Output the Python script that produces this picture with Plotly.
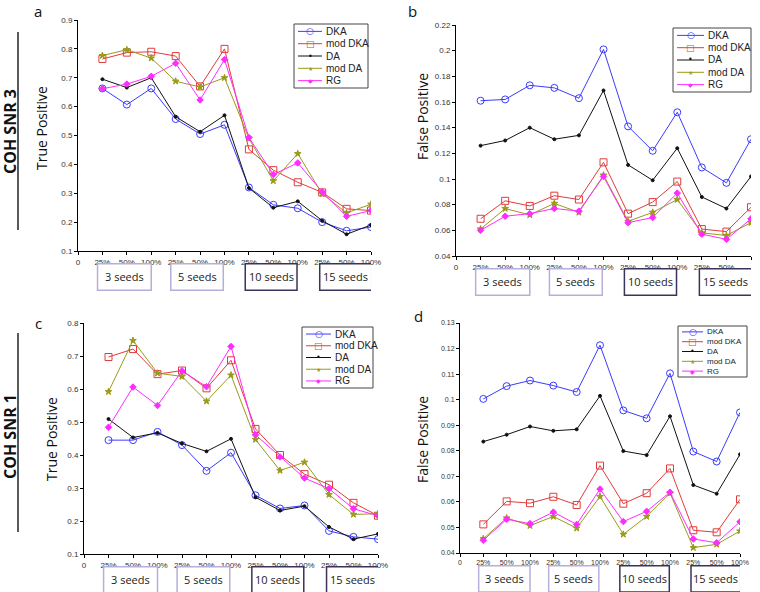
import plotly.graph_objects as go

# ---------------- data ----------------
x_pos = list(range(1, 13))
x_tickvals = list(range(0, 13))
x_ticktext = ["0"] + ["25%", "50%", "100%"] * 4
seed_labels = ["3 seeds", "5 seeds", "10 seeds", "15 seeds"]
series_names = ["DKA", "mod DKA", "DA", "mod DA", "RG"]

# panel a: COH SNR 3, True Positive
a_dka = [0.663, 0.607, 0.663, 0.557, 0.505, 0.537, 0.320, 0.260, 0.248, 0.200, 0.170, 0.183]
a_moddka = [0.765, 0.787, 0.790, 0.775, 0.670, 0.800, 0.452, 0.380, 0.338, 0.303, 0.246, 0.240]
a_da = [0.695, 0.666, 0.700, 0.565, 0.513, 0.570, 0.318, 0.250, 0.272, 0.205, 0.158, 0.190]
a_modda = [0.777, 0.797, 0.768, 0.688, 0.668, 0.700, 0.490, 0.343, 0.437, 0.298, 0.232, 0.262]
a_rg = [0.662, 0.678, 0.705, 0.750, 0.623, 0.763, 0.493, 0.365, 0.405, 0.305, 0.220, 0.240]

# panel b: COH SNR 3, False Positive
b_dka = [0.161, 0.162, 0.173, 0.171, 0.163, 0.201, 0.141, 0.122, 0.152, 0.109, 0.097, 0.131]
b_moddka = [0.069, 0.083, 0.079, 0.087, 0.084, 0.113, 0.073, 0.082, 0.098, 0.061, 0.059, 0.078]
b_da = [0.126, 0.130, 0.140, 0.131, 0.134, 0.169, 0.111, 0.099, 0.124, 0.086, 0.077, 0.102]
b_modda = [0.061, 0.077, 0.072, 0.081, 0.074, 0.103, 0.067, 0.074, 0.084, 0.058, 0.056, 0.066]
b_rg = [0.060, 0.071, 0.073, 0.077, 0.075, 0.102, 0.066, 0.070, 0.089, 0.057, 0.053, 0.069]

# panel c: COH SNR 1, True Positive
c_dka = [0.445, 0.445, 0.470, 0.430, 0.352, 0.407, 0.278, 0.238, 0.247, 0.170, 0.152, 0.145]
c_moddka = [0.697, 0.721, 0.645, 0.656, 0.602, 0.687, 0.479, 0.400, 0.342, 0.310, 0.255, 0.216]
c_da = [0.509, 0.453, 0.467, 0.435, 0.411, 0.449, 0.272, 0.232, 0.245, 0.182, 0.145, 0.161]
c_modda = [0.592, 0.747, 0.648, 0.638, 0.563, 0.642, 0.447, 0.353, 0.378, 0.280, 0.220, 0.222]
c_rg = [0.484, 0.606, 0.550, 0.655, 0.607, 0.729, 0.461, 0.394, 0.330, 0.298, 0.237, 0.216]

# panel d: COH SNR 1, False Positive
d_dka = [0.1003, 0.1053, 0.1075, 0.1055, 0.1030, 0.1213, 0.0958, 0.0927, 0.1103, 0.0797, 0.0758, 0.0950]
d_moddka = [0.0512, 0.0602, 0.0595, 0.0620, 0.0588, 0.0742, 0.0593, 0.0634, 0.0731, 0.0489, 0.0481, 0.0610]
d_da = [0.0836, 0.0863, 0.0895, 0.0878, 0.0884, 0.1015, 0.0799, 0.0783, 0.0935, 0.0666, 0.0632, 0.0786]
d_modda = [0.0456, 0.0537, 0.0507, 0.0543, 0.0497, 0.0621, 0.0473, 0.0543, 0.0634, 0.0421, 0.0434, 0.0486]
d_rg = [0.0450, 0.0532, 0.0515, 0.0560, 0.0512, 0.0650, 0.0523, 0.0563, 0.0638, 0.0455, 0.0440, 0.0522]

# ---------------- styling ----------------
W, H = 760, 592
FONT = "Open Sans"
TICKFONT = "Liberation Sans"
styles = [
    dict(color="#3b3bff", symbol="circle-open", size=7, glyph="○", gsize=9),
    dict(color="#e03c3c", symbol="square-open", size=7, glyph="□", gsize=9),
    dict(color="#111111", symbol="circle", size=3, glyph="•", gsize=8),
    dict(color="#9a9a1a", symbol="star", size=5, glyph="★", gsize=6),
    dict(color="#ff2cff", symbol="diamond", size=5, glyph="◆", gsize=6),
]


def px_x(p):
    return p / W


def px_y(p):
    return 1 - p / H


panels = [
    dict(data=[a_dka, a_moddka, a_da, a_modda, a_rg], xd=(78, 371), yd=(20, 251),
         yr=(0.1, 0.9), dt=0.1, leg=(294, 24, 368, 88), tfs=8, lfs=10, samp=24),
    dict(data=[b_dka, b_moddka, b_da, b_modda, b_rg], xd=(456, 751), yd=(25, 256),
         yr=(0.04, 0.22), dt=0.02, leg=(673, 28, 751, 92), tfs=8, lfs=10, samp=27),
    dict(data=[c_dka, c_moddka, c_da, c_modda, c_rg], xd=(84, 378), yd=(323, 554),
         yr=(0.1, 0.8), dt=0.1, leg=(302, 327, 373, 388), tfs=8, lfs=10, samp=25),
    dict(data=[d_dka, d_moddka, d_da, d_modda, d_rg], xd=(460, 740), yd=(323, 553),
         yr=(0.04, 0.13), dt=0.01, leg=(678, 326, 747, 377), tfs=7, lfs=8, samp=21),
]

fig = go.Figure()
layout = dict(width=W, height=H, margin=dict(l=0, r=0, t=0, b=0, autoexpand=False),
              paper_bgcolor="white", plot_bgcolor="white", showlegend=False,
              font=dict(family=FONT, color="#222"))
annotations = []
shapes = []

seed_x = [(0.8, 3.0), (3.8, 5.95), (6.85, 8.97), (9.9, 12.03)]
seed_col = ["#b9aedb", "#b9aedb", "#3d3358", "#3d3358"]

for i, p in enumerate(panels):
    k = "" if i == 0 else str(i + 1)
    for j, (vals, st) in enumerate(zip(p["data"], styles)):
        fig.add_trace(go.Scatter(
            x=x_pos, y=vals, mode="lines+markers", name=series_names[j],
            xaxis="x" + k, yaxis="y" + k,
            line=dict(color=st["color"], width=1),
            marker=dict(color=st["color"], symbol=st["symbol"], size=st["size"],
                        line=dict(color=st["color"], width=1)),
        ))
    layout["xaxis" + k] = dict(
        domain=[px_x(p["xd"][0]), px_x(p["xd"][1])], anchor="y" + k,
        range=[0, 12], tickmode="array", tickvals=x_tickvals, ticktext=x_ticktext,
        showline=True, linecolor="black", linewidth=1, ticks="outside", ticklen=3,
        tickcolor="black", showgrid=False, zeroline=False, automargin=False,
        tickfont=dict(family=TICKFONT, size=p["tfs"], color="#333"))
    layout["yaxis" + k] = dict(
        domain=[px_y(p["yd"][1]), px_y(p["yd"][0])], anchor="x" + k,
        range=list(p["yr"]), dtick=p["dt"], tick0=p["yr"][0],
        showline=True, linecolor="black", linewidth=1, ticks="outside", ticklen=3,
        tickcolor="black", showgrid=False, zeroline=False, automargin=False,
        tickfont=dict(family=TICKFONT, size=p["tfs"], color="#333"))

    # manual legend box
    lx0, ly0, lx1, ly1 = p["leg"]
    shapes.append(dict(type="rect", xref="paper", yref="paper",
                       x0=px_x(lx0), x1=px_x(lx1), y0=px_y(ly1), y1=px_y(ly0),
                       line=dict(color="#444", width=1), fillcolor="white"))
    step = (ly1 - ly0) / 5.2
    for j, st in enumerate(styles):
        ry = ly0 + step * (0.6 + j)
        sx0, sx1 = lx0 + 4, lx0 + 4 + p["samp"]
        shapes.append(dict(type="line", xref="paper", yref="paper",
                           x0=px_x(sx0), x1=px_x(sx1), y0=px_y(ry), y1=px_y(ry),
                           line=dict(color=st["color"], width=1)))
        annotations.append(dict(xref="paper", yref="paper", x=px_x((sx0 + sx1) / 2),
                                y=px_y(ry), text=st["glyph"], showarrow=False,
                                xanchor="center", yanchor="middle",
                                font=dict(family="DejaVu Sans", size=st["gsize"],
                                          color=st["color"])))
        annotations.append(dict(xref="paper", yref="paper", x=px_x(sx1 + 2),
                                y=px_y(ry), text=series_names[j], showarrow=False,
                                xanchor="left", yanchor="middle",
                                font=dict(family=TICKFONT, size=p["lfs"], color="#222")))

    # seed boxes
    for (x0, x1), col, lab in zip(seed_x, seed_col, seed_labels):
        shapes.append(dict(type="rect", xref="x" + k, yref="y" + k + " domain",
                           x0=x0, x1=x1, y0=-0.17, y1=-0.055,
                           line=dict(color=col, width=1.5), fillcolor="white"))
        annotations.append(dict(xref="x" + k, yref="y" + k + " domain",
                                x=(x0 + x1) / 2, y=-0.112, text=lab, showarrow=False,
                                xanchor="center", yanchor="middle",
                                font=dict(size=11, color="#222")))

# axis titles, row labels, panel letters
titles = [("True Positive", 41, 128), ("False Positive", 422, 116),
          ("True Positive", 51, 439), ("False Positive", 422, 439)]
for t, xx, yy in titles:
    annotations.append(dict(xref="paper", yref="paper", x=px_x(xx), y=px_y(yy),
                            text=t, textangle=-90, showarrow=False,
                            xanchor="center", yanchor="middle",
                            font=dict(size=14, color="#111")))
rows = [("COH SNR 3", 10, 132, 32, 230), ("COH SNR 1", 10, 437, 333, 532)]
for t, xx, yy, l0, l1 in rows:
    annotations.append(dict(xref="paper", yref="paper", x=px_x(xx), y=px_y(yy),
                            text="<b>" + t + "</b>", textangle=-90, showarrow=False,
                            xanchor="center", yanchor="middle",
                            font=dict(size=16, color="#111")))
    shapes.append(dict(type="line", xref="paper", yref="paper",
                       x0=px_x(18), x1=px_x(18), y0=px_y(l0), y1=px_y(l1),
                       line=dict(color="#222", width=1.5)))
letters = [("a", 38, 11), ("b", 412, 11), ("c", 38, 323), ("d", 418, 316)]
for t, xx, yy in letters:
    annotations.append(dict(xref="paper", yref="paper", x=px_x(xx), y=px_y(yy),
                            text=t, showarrow=False, xanchor="center", yanchor="middle",
                            font=dict(size=15, color="#111")))

layout["annotations"] = annotations
layout["shapes"] = shapes
fig.update_layout(**layout)
fig.write_html("out.html", config={"displayModeBar": False},
               post_script="document.body.style.margin='0';document.body.style.overflow='hidden';")
